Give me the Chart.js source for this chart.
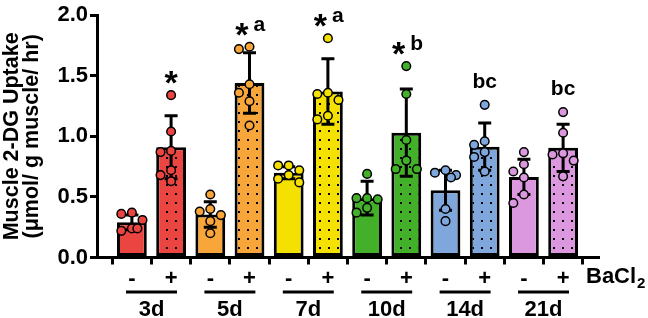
<!DOCTYPE html>
<html>
<head>
<meta charset="utf-8">
<script src="https://cdn.jsdelivr.net/npm/chart.js@4/dist/chart.umd.min.js"></script>
<style>
  html, body { margin: 0; padding: 0; background: #fff; }
  #wrap { width: 648px; height: 318px; }
</style>
</head>
<body>
<div id="wrap"><canvas id="grafica"></canvas></div>
<script>
// grupos (días) y tratamiento con BaCl2
var grupos = ['3d', '5d', '7d', '10d', '14d', '21d'];
var tratamiento = ['-', '+'];
var coloresGrupo = ['#EA4540', '#F8A53A', '#F5E100', '#43B02A', '#7FA7DC', '#DC98DE'];

// media y desviación de cada barra (3d-, 3d+, 5d-, 5d+, ...)
var medias = [0.29, 0.91, 0.355, 1.44, 0.70, 1.37, 0.49, 1.03, 0.555, 0.915, 0.665, 0.905];
var desv   = [0.06, 0.26, 0.105, 0.25, 0.05, 0.27, 0.14, 0.36, 0.165, 0.195, 0.145, 0.195];

// puntos individuales
var puntos = [
    [0.37, 0.36, 0.31, 0.24, 0.22, 0.24],
    [1.34, 1.04, 0.88, 0.87, 0.72, 0.68, 0.63],
    [0.52, 0.40, 0.38, 0.35, 0.30, 0.20],
    [1.74, 1.72, 1.43, 1.36, 1.29, 1.09],
    [0.76, 0.76, 0.72, 0.68, 0.65, 0.62],
    [1.81, 1.36, 1.35, 1.30, 1.17, 1.14],
    [0.69, 0.49, 0.49, 0.48, 0.41, 0.37],
    [1.58, 1.35, 0.97, 0.80, 0.73, 0.73],
    [0.72, 0.70, 0.68, 0.66, 0.40, 0.30],
    [1.26, 0.96, 0.93, 0.87, 0.83, 0.71],
    [0.87, 0.77, 0.71, 0.66, 0.52, 0.45],
    [1.20, 1.03, 0.86, 0.85, 0.80, 0.67]
];

// letras de significancia sobre cada barra
var marcas = ['', '*', '', '*a', '', '*a', '', '*b', '', 'bc', '', 'bc'];

var yTicks = [0, 0.5, 1.0, 1.5, 2.0];

var fuente = 'Liberation Sans, Arial, sans-serif';

document.addEventListener("DOMContentLoaded", function() {

    var ctx = document.getElementById('grafica').getContext('2d');

    // relleno punteado para las barras con BaCl2
    function patron(color) {
        var c = document.createElement('canvas');
        c.width = 9; c.height = 9;
        var g = c.getContext('2d');
        g.fillStyle = color;
        g.fillRect(0, 0, 9, 9);
        g.fillStyle = '#000';
        g.fillRect(4, 4, 2, 2);
        return ctx.createPattern(c, 'repeat');
    }

    // reparte los puntos a los lados para que no se encimen
    function repartir(valores, centro) {
        var puestos = [];
        var opciones = [0, -0.27, 0.27, -0.14, 0.14];
        valores.forEach(function (v) {
            for (var k = 0; k < opciones.length; k++) {
                var px = centro + opciones[k];
                var choca = puestos.some(function (p) {
                    return Math.abs(p.x - px) < 0.22 && Math.abs(p.y - v) < 0.075;
                });
                if (!choca || k === opciones.length - 1) {
                    puestos.push({ x: px, y: v });
                    break;
                }
            }
        });
        return puestos;
    }

    var barras = medias.map(function (m, i) { return { x: i, y: m }; });
    var fondos = medias.map(function (m, i) {
        var col = coloresGrupo[Math.floor(i / 2)];
        return i % 2 === 1 ? patron(col) : col;
    });

    var datosPuntos = [];
    var coloresPuntos = [];
    puntos.forEach(function (lista, i) {
        repartir(lista, i).forEach(function (p) {
            datosPuntos.push(p);
            coloresPuntos.push(coloresGrupo[Math.floor(i / 2)]);
        });
    });

    var extras = {
        id: 'extras',
        afterDatasetDraw: function (chart, args) {
            if (args.index !== 0) return;
            var c = chart.ctx, sx = chart.scales.x, sy = chart.scales.y;
            c.save();
            c.strokeStyle = '#000';
            c.lineWidth = 3;
            medias.forEach(function (m, i) {
                var px = sx.getPixelForValue(i);
                var arriba = sy.getPixelForValue(m + desv[i]);
                var abajo = sy.getPixelForValue(m - desv[i]);
                c.beginPath();
                c.moveTo(px, arriba); c.lineTo(px, abajo);
                c.moveTo(px - 6.5, arriba); c.lineTo(px + 6.5, arriba);
                c.moveTo(px - 6.5, abajo); c.lineTo(px + 6.5, abajo);
                c.stroke();
            });
            c.restore();
        },
        afterDraw: function (chart) {
            var c = chart.ctx, sx = chart.scales.x, sy = chart.scales.y;
            c.save();
            c.fillStyle = '#000';
            c.strokeStyle = '#000';
            c.textBaseline = 'alphabetic';

            // marcas de significancia
            marcas.forEach(function (txt, i) {
                if (!txt) return;
                var px = sx.getPixelForValue(i);
                var tope = sy.getPixelForValue(Math.max.apply(null, puntos[i]));
                if (txt[0] === '*') {
                    c.font = 'bold 34px ' + fuente;
                    if (txt.length === 1) {
                        c.textAlign = 'center';
                        c.fillText('*', px, tope - 1);
                    } else {
                        c.textAlign = 'right';
                        c.fillText('*', px - 1, tope - 1);
                        c.font = 'bold 21px ' + fuente;
                        c.textAlign = 'left';
                        c.fillText(txt.slice(1), px + 4, tope - 16);
                    }
                } else {
                    c.font = 'bold 21px ' + fuente;
                    c.textAlign = 'center';
                    c.fillText(txt, px, tope - 17);
                }
            });

            // líneas y nombres de grupo
            var yLinea = 292;
            grupos.forEach(function (g, k) {
                var izq = sx.getPixelForValue(2 * k + 0.5 - 0.65);
                var der = sx.getPixelForValue(2 * k + 0.5 + 0.65);
                c.lineWidth = 3;
                c.beginPath();
                c.moveTo(izq, yLinea); c.lineTo(der, yLinea);
                c.stroke();
                c.font = 'bold 22px ' + fuente;
                c.textAlign = 'center';
                c.fillText(g, sx.getPixelForValue(2 * k + 0.5), 316);
            });

            // etiqueta BaCl2
            c.textAlign = 'left';
            c.font = 'bold 22px ' + fuente;
            var xb = 586;
            c.fillText('BaCl', xb, 283);
            var w = c.measureText('BaCl').width;
            c.font = 'bold 15px ' + fuente;
            c.fillText('2', xb + w + 1, 288);
            c.restore();
        }
    };

    new Chart(ctx, {
        data: {
            datasets: [{
                type: 'bar',
                data: barras,
                backgroundColor: fondos,
                borderColor: '#000',
                borderWidth: 3,
                borderSkipped: false,
                barPercentage: 0.76,
                categoryPercentage: 1,
                order: 2
            }, {
                type: 'scatter',
                data: datosPuntos,
                pointRadius: 4.3,
                pointBackgroundColor: coloresPuntos,
                pointBorderColor: '#000',
                pointBorderWidth: 1.5,
                order: 1
            }]
        },
        plugins: [extras],
        options: {
            responsive: true,
            maintainAspectRatio: false,
            animation: false,
            layout: { padding: { top: 10, right: 50, bottom: 0, left: 0 } },
            plugins: { legend: { display: false }, tooltip: { enabled: false } },
            scales: {
                x: {
                    type: 'linear',
                    min: -0.89,
                    max: 11.89,
                    offset: false,
                    grid: { drawOnChartArea: false, color: '#000', lineWidth: 3, tickLength: 7 },
                    border: { color: '#000', width: 3 },
                    ticks: {
                        stepSize: 1,
                        includeBounds: false,
                        autoSkip: false,
                        maxRotation: 0,
                        padding: 1,
                        color: '#000',
                        font: { family: fuente, size: 22, weight: 'bold' },
                        callback: function (v) { return tratamiento[v % 2]; }
                    },
                    afterFit: function (s) { s.height = 60.5; }
                },
                y: {
                    min: 0,
                    max: 2,
                    grid: { drawOnChartArea: false, color: '#000', lineWidth: 3, tickLength: 7 },
                    border: { color: '#000', width: 3 },
                    afterBuildTicks: function (s) { s.ticks = yTicks.map(function (v) { return { value: v }; }); },
                    ticks: {
                        padding: 2,
                        color: '#000',
                        font: { family: fuente, size: 22, weight: 'bold' },
                        callback: function (v) { return v.toFixed(1); }
                    },
                    title: {
                        display: true,
                        text: ['Muscle 2-DG Uptake', '(μmol/ g muscle/ hr)'],
                        color: '#000',
                        font: { family: fuente, size: 21.5, weight: 'bold', lineHeight: 0.92 },
                        padding: { top: 2, bottom: 0 }
                    },
                    afterFit: function (s) { s.width = 97; }
                }
            }
        }
    });
});
</script>
</body>
</html>
